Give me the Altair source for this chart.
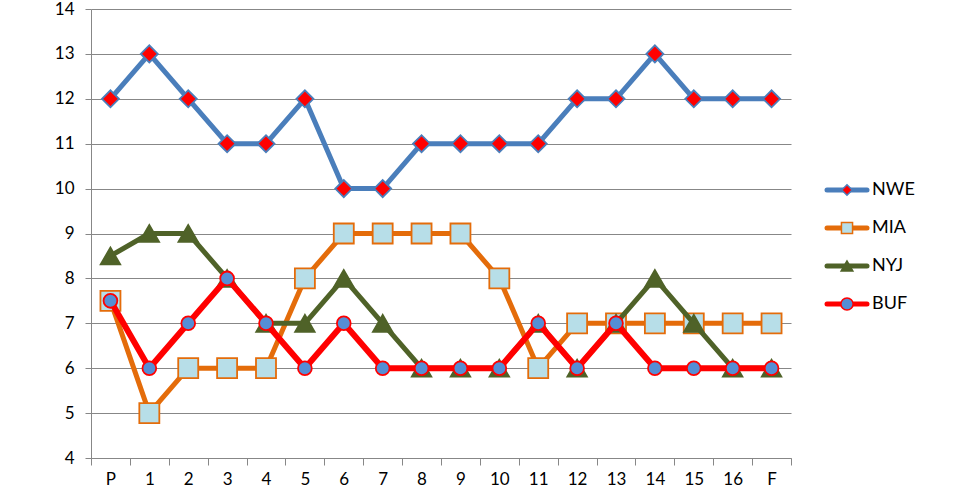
import altair as alt
import pandas as pd

weeks = ["P", "1", "2", "3", "4", "5", "6", "7", "8", "9", "10", "11", "12", "13", "14", "15", "16", "F"]
teams = ["NWE", "MIA", "NYJ", "BUF"]
nwe = [12, 13, 12, 11, 11, 12, 10, 10, 11, 11, 11, 11, 12, 12, 13, 12, 12, 12]
mia = [7.5, 5, 6, 6, 6, 8, 9, 9, 9, 9, 8, 6, 7, 7, 7, 7, 7, 7]
nyj = [8.5, 9, 9, 8, 7, 7, 8, 7, 6, 6, 6, 7, 6, 7, 8, 7, 6, 6]
buf = [7.5, 6, 7, 8, 7, 6, 7, 6, 6, 6, 6, 7, 6, 7, 6, 6, 6, 6]

line_colors = ["#4A7EBB", "#E46C0A", "#4F6228", "#FF0000"]
fill_colors = ["#FF0000", "#B7DEE8", "#4F6228", "#558ED5"]
stroke_colors = ["#4A7EBB", "#E46C0A", "#4F6228", "#FF0000"]
shapes = ["diamond", "square", "triangle-up", "circle"]
sizes = [290, 400, 380, 190]
legend_sizes = [110, 150, 190, 120]
line_widths = [5, 5, 5, 6]

rows = []
for t, vals in zip(teams, [nwe, mia, nyj, buf]):
    for w, v in zip(weeks, vals):
        rows.append({"week": w, "team": t, "rank": v})
df = pd.DataFrame(rows)

FONT = "Lato"
GRID = "#878787"

x = alt.X(
    "week:O",
    sort=weeks,
    scale=alt.Scale(type="band", paddingInner=0, paddingOuter=0),
    axis=alt.Axis(
        title=None, labelAngle=0, tickBand="extent", tickSize=7, tickColor=GRID,
        domainColor=GRID, labelPadding=6, labelFontSize=17, labelFont=FONT,
        labelColor="#000000", grid=False,
    ),
)
y = alt.Y(
    "rank:Q",
    scale=alt.Scale(domain=[4, 14], nice=False, zero=False),
    axis=alt.Axis(
        title=None, values=list(range(4, 15)), grid=True, gridColor=GRID,
        gridOpacity=1, tickSize=6, tickColor=GRID, domainColor=GRID,
        labelPadding=11, labelFontSize=17, labelFont=FONT, labelColor="#000000",
    ),
)

layers = []
for i, t in enumerate(teams):
    base = alt.Chart(df).transform_filter(alt.datum.team == t)
    layers.append(
        base.mark_line(color=line_colors[i], strokeWidth=line_widths[i],
                       strokeJoin="round", strokeCap="round").encode(x=x, y=y)
    )
    layers.append(
        base.mark_point(shape=shapes[i], filled=True, fill=fill_colors[i],
                        stroke=stroke_colors[i], strokeWidth=1.8,
                        size=sizes[i], opacity=1).encode(x=x, y=y)
    )
main = alt.layer(*layers).properties(width=700, height=449)

leg_df = pd.DataFrame({"team": teams})
ly = alt.Y("team:N", sort=teams,
           scale=alt.Scale(type="point", padding=0, range=[181, 295]), axis=None)
leg_base = alt.Chart(leg_df)
leg_rule = leg_base.mark_rule(strokeWidth=5, strokeCap="round").encode(
    x=alt.value(2), x2=alt.value(42), y=ly,
    color=alt.Color("team:N", scale=alt.Scale(domain=teams, range=line_colors), legend=None),
)
leg_pt = leg_base.mark_point(filled=True, opacity=1, strokeWidth=1.5).encode(
    x=alt.value(22), y=ly,
    shape=alt.Shape("team:N", scale=alt.Scale(domain=teams, range=shapes), legend=None),
    fill=alt.Fill("team:N", scale=alt.Scale(domain=teams, range=fill_colors), legend=None),
    stroke=alt.Stroke("team:N", scale=alt.Scale(domain=teams, range=stroke_colors), legend=None),
    size=alt.Size("team:N", scale=alt.Scale(domain=teams, range=legend_sizes), legend=None),
)
leg_text = leg_base.mark_text(align="left", baseline="middle", fontSize=18, font=FONT, color="#000000").encode(
    x=alt.value(47), y=ly, text="team:N",
)
legend = alt.layer(leg_rule, leg_pt, leg_text).properties(width=110, height=449)

chart = alt.hconcat(main, legend, spacing=32).resolve_scale(
    y="independent", color="independent", shape="independent",
    fill="independent", stroke="independent", size="independent",
).properties(
    padding={"left": 54, "top": 0, "right": 0, "bottom": 0},
    background="#FFFFFF",
).configure_view(stroke=None)

chart.save("out.html", embed_options={"renderer": "svg", "actions": False})
